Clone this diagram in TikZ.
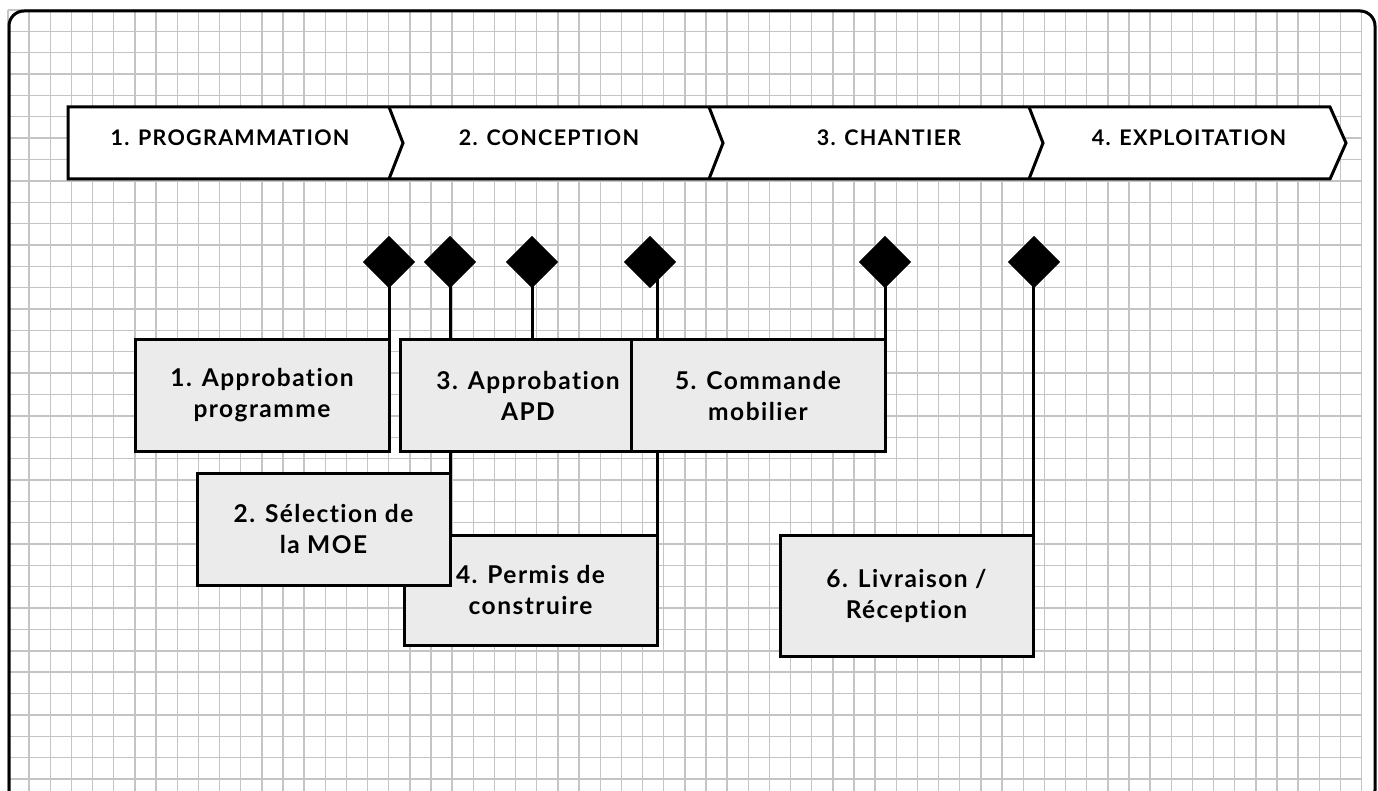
\documentclass[tikz,border=0pt]{standalone}
\usepackage{fontspec}
\setmainfont{Lato}[Ligatures=NoCommon, LetterSpace=6]
\usetikzlibrary{shapes.geometric}
\definecolor{gridgray}{HTML}{C4C4C4}
\definecolor{boxgray}{HTML}{EBEBEB}
\tikzset{
  gridline/.style={draw=gridgray, line width=1.4pt},
  frameline/.style={draw=black, line width=3pt, rounded corners=15pt},
  band/.style={draw=black, line width=3pt, line join=miter},
  phase/.style={font=\fontsize{21.5}{25}\selectfont\bfseries, inner sep=0pt},
  stepbox/.style={draw=black, fill=boxgray, line width=3pt, minimum width=254pt,
    inner sep=0pt, align=center, font=\fontsize{24.5}{31}\selectfont\bfseries},
  milestone/.style={diamond, fill=black, minimum width=52pt, minimum height=52pt, inner sep=0pt},
  link/.style={draw=black, line width=3pt},
}
\begin{document}
\begin{tikzpicture}[x=1pt,y=-1pt]
\useasboundingbox (0,0) rectangle (1378,791);
\clip (0,0) rectangle (1378,791);

% squared paper
\foreach \k in {0,...,64} {
  \draw[gridline] ({8+21.15*\k},10) -- ({8+21.15*\k},800);
}
\foreach \k in {0,...,37} {
  \draw[gridline] (8,{10+21.36*\k}) -- (1362,{10+21.36*\k});
}

% outer frame
\draw[frameline] (9,11) rectangle (1375,805);

% phase band
\draw[band, fill=white] (68,107) -- (1330,107) -- (1346,143) -- (1330,179) -- (68,179) -- cycle;
\foreach \sx in {389,709,1029} {
  \draw[band] (\sx,107) -- (\sx+14,143) -- (\sx,179);
}
\node[phase] (p1) at (230,138) {1. PROGRAMMATION};
\node[phase] (p2) at (549,138) {2. CONCEPTION};
\node[phase] (p3) at (889,138) {3. CHANTIER};
\node[phase] (p4) at (1189,138) {4. EXPLOITATION};

% milestones
\node[milestone] (d1) at (389,262) {};
\node[milestone] (d2) at (450,262) {};
\node[milestone] (d3) at (532,262) {};
\node[milestone] (d4) at (650,262) {};
\node[milestone] (d5) at (885,262) {};
\node[milestone] (d6) at (1034,262) {};

% step box centres and link end points
\path (262,395.5) coordinate (c1);
\path (323.5,529) coordinate (c2);
\path (528,395.5) coordinate (c3);
\path (530.5,590) coordinate (c4);
\path (758,395.5) coordinate (c5);
\path (906.5,595.5) coordinate (c6);
\path (389,340) coordinate (b1ne);
\path (450,473) coordinate (b2ne);
\path (532,340) coordinate (b3top);
\path (657,535) coordinate (b4ne);
\path (885,340) coordinate (b5ne);
\path (1033,535) coordinate (b6ne);
\path (657,262) coordinate (d4r);
\path (1033,262) coordinate (d6r);

% links from milestones to steps
\draw[link] (d1.center) -- (b1ne);
\draw[link] (d2.center) -- (b2ne);
\draw[link] (d3.center) -- (b3top);
\draw[link] (d4r) -- (b4ne);
\draw[link] (d5.center) -- (b5ne);
\draw[link] (d6r) -- (b6ne);

% milestones again, over the link ends
\node[milestone] at (d1) {};
\node[milestone] at (d2) {};
\node[milestone] at (d3) {};
\node[milestone] at (d4) {};
\node[milestone] at (d5) {};
\node[milestone] at (d6) {};

% steps
\node[stepbox, minimum height=111pt] (b1) at (c1) {1. Approbation\\programme};
\node[stepbox, minimum height=111pt, minimum width=256pt] (b3) at (c3) {3. Approbation\\APD};
\node[stepbox, minimum height=110pt, minimum width=253pt] (b4) at (c4) {4. Permis de\\construire};
\node[stepbox, minimum height=112pt, minimum width=253pt] (b2) at (c2) {2. Sélection de\\la MOE};
\node[stepbox, minimum height=111pt] (b5) at (c5) {5. Commande\\mobilier};
\node[stepbox, minimum height=121pt, minimum width=253pt] (b6) at (c6) {6. Livraison /\\Réception};
\end{tikzpicture}
\end{document}
